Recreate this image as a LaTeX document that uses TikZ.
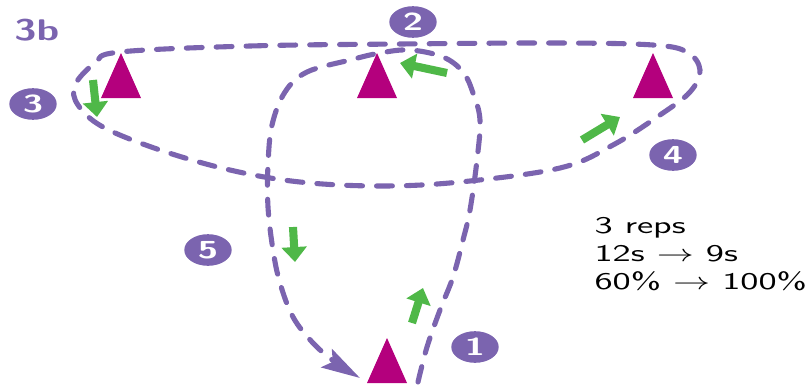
\documentclass[tikz,border=0pt]{standalone}
\usepackage{fix-cm}
\usepackage{fontspec}
\usepackage{tikz}
\usetikzlibrary{arrows.meta}
\definecolor{SPurple}{HTML}{7B64AF}
\definecolor{SMagenta}{HTML}{B4007D}
\definecolor{SGreen}{HTML}{4FB848}

\begin{document}
\begin{tikzpicture}[
  x=0.02cm, y=-0.02cm,
  run/.style={draw=SPurple, line width=2.9pt, dash pattern=on 9pt off 8pt,
    line cap=round},
  go/.style={draw=SGreen, line width=4.6pt,
    -{Triangle[length=8.5pt,width=14pt]}},
  badge/.style={circle, fill=SPurple, text=white, minimum size=18pt,
    inner sep=0pt, xscale=1.5,
    font=\sffamily\bfseries\fontsize{14}{14}\selectfont},
  cone/.pic={\fill[SMagenta] (-20,0) -- (0,-45) -- (20,0) -- cycle;}
]
  \useasboundingbox (0,0) rectangle (812,386);
  % outer loop round the three top cones
  \draw[run] plot[smooth cycle, tension=0.6] coordinates {
    (120,52) (250,46) (400,44) (560,43) (653,45) (687,52) (700,70)
    (690,92) (660,115) (613,145) (560,168) (460,182) (380,186)
    (300,182) (230,170) (160,150) (103,127) (78,105) (75,85) (95,63)};
  % inner loop from the bottom cone
  \coordinate (end) at (360,378);
  \draw[run, -{Stealth[length=22pt,width=12pt,inset=4pt]}]
    plot[smooth, tension=0.6] coordinates {
    (418,382) (427,347) (440,310) (453,277) (463,240) (470,210)
    (477,160) (480,120) (473,93) (463,72) (443,57) (410,50) (380,53)
    (350,60) (307,72) (285,92) (272,125) (268,165) (268,207)
    (273,250) (280,283) (293,317) (313,343) (335,362) (end)};
  % cones
  \pic (c1) at (387,383) {cone};
  \pic (c2) at (377,98) {cone};
  \pic (c3) at (121,98) {cone};
  \pic (c4) at (653,98) {cone};
  % direction arrows
  \draw[go] (93,80) -- (97,117);
  \draw[go] (447,73) -- (400,63);
  \draw[go] (582,140) -- (620,117);
  \draw[go] (293,227) -- (295,262);
  \draw[go] (412,323) -- (423,288);
  % badges
  \node[badge] (b1) at (475,347) {1};
  \node[badge] (b2) at (413,22) {2};
  \node[badge] (b3) at (33,104) {3};
  \node[badge] (b4) at (673,155) {4};
  \node[badge] (b5) at (208,250) {5};
  \node[anchor=base west, inner sep=0pt, xscale=1.35, text=SPurple,
    font=\sffamily\bfseries\fontsize{17}{17}\selectfont] (tag) at (14,40) {3b};
  \node[anchor=north west, align=left, inner sep=0pt, xscale=1.55,
    font=\sffamily\fontsize{13.6}{16}\selectfont] (reps) at (594,217)
    {3 reps\\12s $\rightarrow$ 9s\\60\% $\rightarrow$ 100\%};
\end{tikzpicture}
\end{document}
